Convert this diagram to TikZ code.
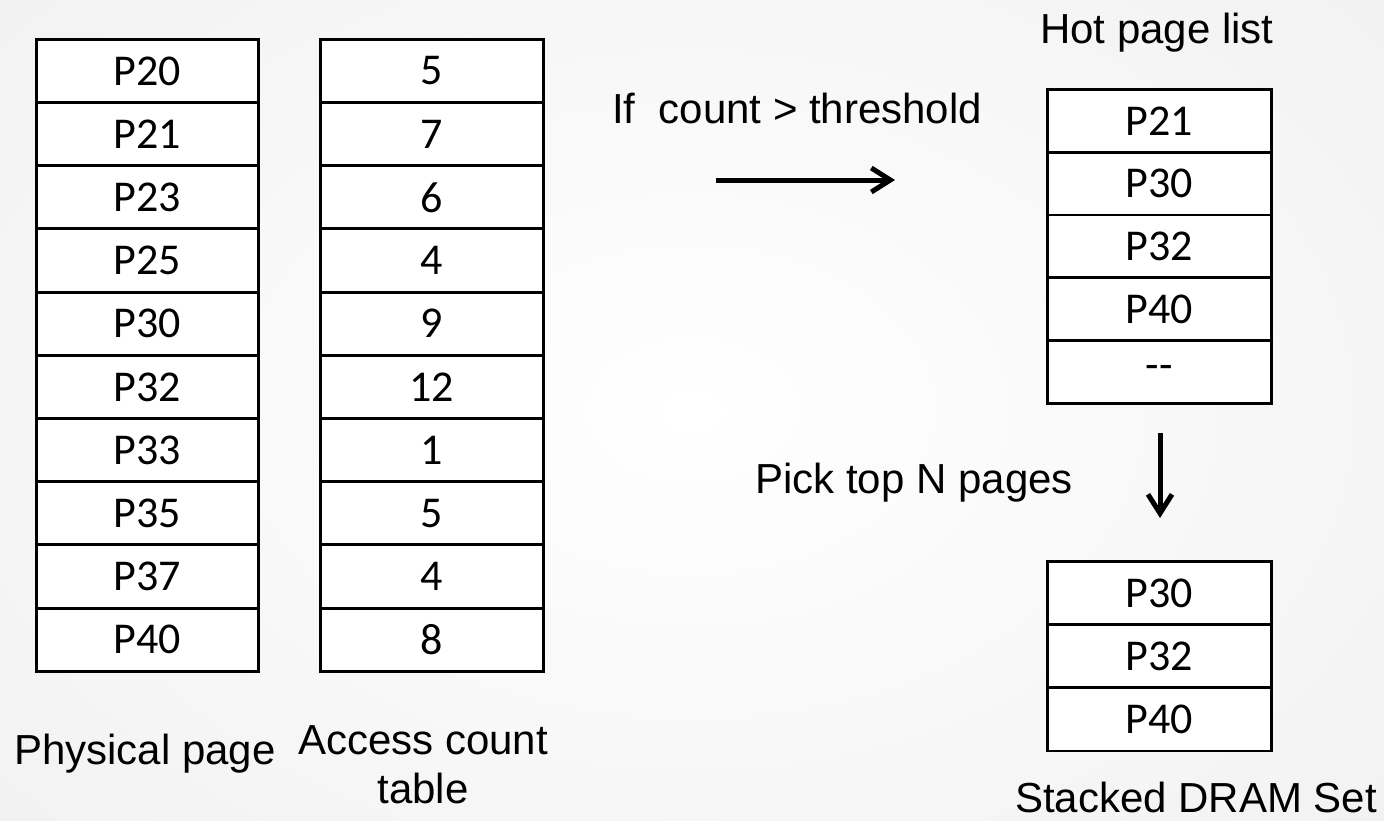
\documentclass[tikz,border=0pt]{standalone}
\usepackage{fontspec}
\setmainfont{Liberation Sans}
\newfontfamily\cellfont{Carlito}
\usetikzlibrary{arrows.meta}
\tikzset{
  cellbox/.style={draw=black, fill=white, line width=2.8pt, minimum width=#1, minimum height=63pt, inner sep=0pt, anchor=north west,
     font=\cellfont\fontsize{44}{48}\selectfont},
  lbl/.style={font=\fontsize{42}{49}\selectfont, inner sep=0pt},
  arr/.style={line width=5pt, arrows={-Straight Barb[length=19pt,width=24pt]}}
}
\begin{document}
\begin{tikzpicture}[x=1pt,y=-1pt]
\useasboundingbox (0,0) rectangle (1384,820);
\shade[inner color=white, outer color=black!5] (-200,-200) rectangle (1584,1020);
% Physical page table
\foreach \t [count=\i from 0] in {P20,P21,P23,P25,P30,P32,P33,P35,P37,P40}{
  \node[cellbox=222pt] (pp\i) at (35,38+63.2*\i) {\t};
}
% Access count table
\foreach \t [count=\i from 0] in {5,7,6,4,9,12,1,5,4,8}{
  \node[cellbox=223pt] (ac\i) at (319,38+63.2*\i) {\t};
}
% Hot page list
\foreach \t [count=\i from 0] in {P21,P30,P32,P40,--}{
  \node[cellbox=224pt] (hp\i) at (1046,88+62.8*\i) {\t};
}
% Stacked DRAM set
\foreach \t [count=\i from 0] in {P30,P32,P40}{
  \node[cellbox=224pt] (sd\i) at (1046,560+63.3*\i) {\t};
}
% labels
\node[lbl, anchor=base west] (lpp) at (14,764) {Physical page};
\node[lbl, anchor=base, align=center] (lac) at (423,803) {Access count\\table};
\node[lbl, anchor=base] (lhp) at (1157,43) {Hot page list};
\node[lbl, anchor=base east] (lsd) at (1377,812) {Stacked DRAM Set};
\node[lbl, anchor=base west] (lif) at (612,123) {If\hspace{0.55em}count > threshold};
\node[lbl, anchor=base east] (lpick) at (1073,493) {Pick top N pages};
% arrows
\coordinate (a1s) at (716,180);
\coordinate (a1e) at (895,180);
\coordinate (a2s) at (1160,433);
\coordinate (a2e) at (1160,518);
\draw[arr] (a1s) -- (a1e);
\draw[arr] (a2s) -- (a2e);
\end{tikzpicture}
\end{document}
